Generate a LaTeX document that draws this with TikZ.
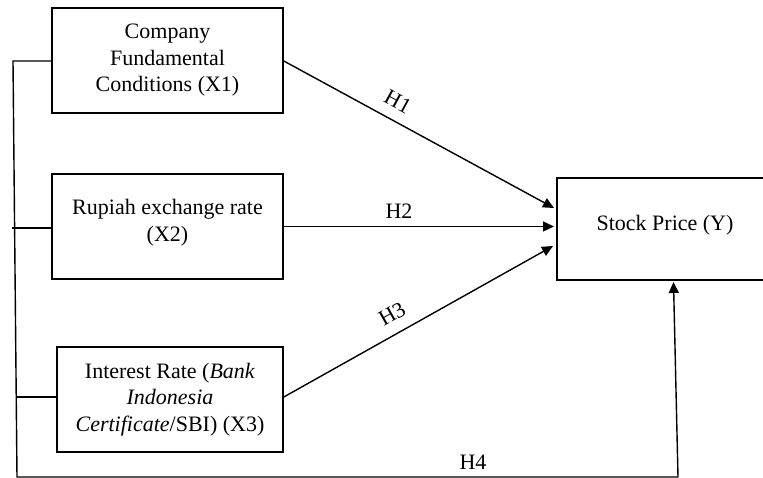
\documentclass[tikz,border=0pt]{standalone}
\usepackage{fontspec}
\setmainfont{Liberation Serif}
\usetikzlibrary{arrows.meta}
\begin{document}
\begin{tikzpicture}[x=1pt,y=-1pt,
  box/.style={draw, line width=1.6pt, align=center, font=\fontsize{22}{26.5}\selectfont, inner sep=0pt},
  conn/.style={line width=1.4pt},
  arr/.style={line width=1.4pt, -{Triangle[length=11pt,width=10pt]}},
  lbl/.style={font=\fontsize{22}{26.5}\selectfont, inner sep=0pt}]
\useasboundingbox (0,0) rectangle (763,478);
% boxes
\node[box, minimum width=231pt, minimum height=105pt] (x1) at (167.5,60.5) {Company\\Fundamental\\Conditions (X1)};
\node[box, minimum width=231pt, minimum height=105pt] (x2) at (167.5,226.5) {Rupiah exchange rate\\(X2)\\[-14.5pt]};
\node[box, minimum width=226pt, minimum height=105pt] (x3) at (170,399.5) {Interest Rate (\textit{Bank}\\\textit{Indonesia}\\\textit{Certificate}/SBI) (X3)};
\node[box, minimum width=216pt, minimum height=102pt] (y) at (665,229) {Stock Price (Y)\\[-14.5pt]};
% coordinates
\coordinate (b1) at (13,61);
\coordinate (b2) at (12,228);
\coordinate (b3) at (16.2,397);
\coordinate (b4) at (17,477);
\coordinate (b5) at (678,477);
\coordinate (t1) at (554,208);
\coordinate (t2) at (554,226.5);
\coordinate (t3) at (553,246);
\coordinate (t4) at (673.5,282);
% bus
\draw[conn] (x1.west |- b1) -- (b1) -- (b4) -- (b5);
\draw[conn] (b2) -- (x2.west |- b2);
\draw[conn] (b3) -- (x3.west |- b3);
\draw[arr] (b5) -- (t4);
% arrows
\draw[arr] (x1.east |- b1) -- (t1);
\draw[arr] (x2.east) -- (t2);
\draw[arr] (x3.east |- b3) -- (t3);
% labels
\node[lbl, rotate=-28.5] (h1) at (398,102) {H1};
\node[lbl] (h2) at (399,211) {H2};
\node[lbl, rotate=29.3] (h3) at (392,314) {H3};
\node[lbl] (h4) at (473,462) {H4};
\end{tikzpicture}
\end{document}
